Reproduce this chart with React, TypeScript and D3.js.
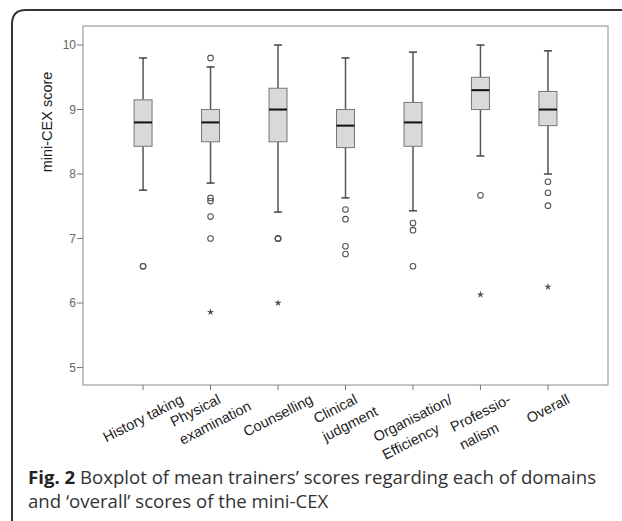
import { useEffect, useRef } from 'react'
import * as d3 from 'd3'

// domains (label lines as printed under the axis)
const labelLines = [
  ['History taking'],
  ['Physical', 'examination'],
  ['Counselling'],
  ['Clinical', 'judgment'],
  ['Organisation/', 'Efficiency'],
  ['Professio-', 'nalism'],
  ['Overall'],
]
const categories = labelLines.map((l) => l.join(' '))

// five-number summaries
const whiskerLow = [7.75, 7.86, 7.41, 7.63, 7.43, 8.28, 8.0]
const q1 = [8.43, 8.5, 8.5, 8.41, 8.43, 9.0, 8.75]
const median = [8.8, 8.8, 9.0, 8.75, 8.8, 9.3, 9.0]
const q3 = [9.15, 9.0, 9.33, 9.0, 9.11, 9.5, 9.28]
const whiskerHigh = [9.8, 9.66, 10.0, 9.8, 9.89, 10.0, 9.91]

// circles (outliers) and stars (extremes)
const outliers = [
  [6.57, 6.57],
  [9.8, 7.63, 7.58, 7.34, 7.0],
  [7.0, 7.0, 7.0],
  [7.45, 7.3, 6.88, 6.76],
  [7.24, 7.13, 6.57],
  [7.67],
  [7.88, 7.71, 7.51],
]
const extremes = [[], [5.86], [6.0], [], [], [6.13], [6.25]]

const yTicks = [5, 6, 7, 8, 9, 10]
const yTitle = 'mini-CEX score'
const captionBold = 'Fig. 2'
const captionLine1 = ' Boxplot of mean trainers’ scores regarding each of domains'
const captionLine2 = 'and ‘overall’ scores of the mini-CEX'

const W = 622
const H = 521
const plot = { left: 83, top: 26, right: 608, bottom: 385 }
const axisFont = 'Liberation Sans, Arial, sans-serif'

export default function App() {
  const ref = useRef<SVGSVGElement>(null)

  useEffect(() => {
    document.body.style.margin = '0'
    const el = ref.current
    if (!el) return
    const svg = d3.select(el)
    svg.selectAll('*').remove()

    const x = d3.scalePoint<string>().domain(categories).range([plot.left, plot.right]).padding(0.89)
    const y = d3.scaleLinear().domain([4.729, 10.295]).range([plot.bottom, plot.top])
    const boxW = 18
    const capW = 8

    // outer panel frame (rounded top-left corner, runs off the page)
    const r = 14
    svg.append('path')
      .attr('d', `M12,${H + 10} L12,${10 + r} Q12,10 ${12 + r},10 L${W + 10},10`)
      .attr('fill', 'none')
      .attr('stroke', '#333')
      .attr('stroke-width', 2)

    // plot area border
    svg.append('rect')
      .attr('x', plot.left).attr('y', plot.top)
      .attr('width', plot.right - plot.left).attr('height', plot.bottom - plot.top)
      .attr('fill', '#fff').attr('stroke', '#8c8c8c').attr('stroke-width', 1)

    // y axis ticks
    const yt = svg.append('g')
    yt.selectAll('line').data(yTicks).join('line')
      .attr('x1', plot.left - 6).attr('x2', plot.left)
      .attr('y1', (d) => y(d)).attr('y2', (d) => y(d))
      .attr('stroke', '#777')
    yt.selectAll('text').data(yTicks).join('text')
      .attr('x', plot.left - 7).attr('y', (d) => y(d))
      .attr('text-anchor', 'end').attr('dominant-baseline', 'central')
      .attr('font-family', axisFont).attr('font-size', 12).attr('fill', '#666')
      .text((d) => d)

    // y title
    svg.append('text')
      .attr('transform', 'translate(52,122) rotate(-90)')
      .attr('text-anchor', 'middle')
      .attr('font-family', axisFont).attr('font-size', 14.5).attr('fill', '#222')
      .text(yTitle)

    // x ticks
    svg.append('g').selectAll('line').data(categories).join('line')
      .attr('x1', (d) => x(d)!).attr('x2', (d) => x(d)!)
      .attr('y1', plot.bottom).attr('y2', plot.bottom + 5)
      .attr('stroke', '#777')

    // boxes
    const g = svg.append('g')
    categories.forEach((c, i) => {
      const cx = x(c)!
      const wc = '#555'
      g.append('line').attr('x1', cx).attr('x2', cx).attr('y1', y(whiskerLow[i])).attr('y2', y(q1[i]))
        .attr('stroke', wc).attr('stroke-width', 1.5)
      g.append('line').attr('x1', cx).attr('x2', cx).attr('y1', y(q3[i])).attr('y2', y(whiskerHigh[i]))
        .attr('stroke', wc).attr('stroke-width', 1.5)
      ;[whiskerLow[i], whiskerHigh[i]].forEach((v) => {
        g.append('line').attr('x1', cx - capW / 2).attr('x2', cx + capW / 2).attr('y1', y(v)).attr('y2', y(v))
          .attr('stroke', '#444').attr('stroke-width', 1.5)
      })
      g.append('rect')
        .attr('x', cx - boxW / 2).attr('y', y(q3[i]))
        .attr('width', boxW).attr('height', y(q1[i]) - y(q3[i]))
        .attr('fill', '#d9d9d9').attr('stroke', '#777').attr('stroke-width', 1)
      g.append('line').attr('x1', cx - boxW / 2).attr('x2', cx + boxW / 2)
        .attr('y1', y(median[i])).attr('y2', y(median[i]))
        .attr('stroke', '#111').attr('stroke-width', 2)

      g.selectAll(null).data(outliers[i]).join('circle')
        .attr('cx', cx).attr('cy', (d) => y(d)).attr('r', 2.8)
        .attr('fill', 'none').attr('stroke', '#555').attr('stroke-width', 1.1)

      g.selectAll(null).data(extremes[i]).join('path')
        .attr('d', d3.symbol().type(d3.symbolStar).size(16)()!)
        .attr('transform', (d) => `translate(${cx},${y(d)})`)
        .attr('fill', '#555')
    })

    // rotated category labels: union of each line's rotated box,
    // centred horizontally under the tick, top just below the axis
    const angle = -27
    const rad = (angle * Math.PI) / 180
    const cos = Math.cos(rad)
    const sin = Math.sin(rad)
    const labelTop = plot.bottom + 6
    categories.forEach((c, i) => {
      const outer = svg.append('g')
      const inner = outer.append('g').attr('transform', `rotate(${angle})`)
      let minX = Infinity, maxX = -Infinity, minY = Infinity
      labelLines[i].forEach((line, j) => {
        const t = inner.append('text')
          .attr('x', 0).attr('y', j * 20)
          .attr('font-family', axisFont).attr('font-size', 14.5).attr('fill', '#222')
          .text(line)
        const b = (t.node() as SVGTextElement).getBBox()
        const corners = [[b.x, b.y], [b.x + b.width, b.y], [b.x, b.y + b.height], [b.x + b.width, b.y + b.height]]
        corners.forEach(([px, py]) => {
          const rx = px * cos - py * sin
          const ry = px * sin + py * cos
          minX = Math.min(minX, rx)
          maxX = Math.max(maxX, rx)
          minY = Math.min(minY, ry)
        })
      })
      const tx = x(c)! - (minX + maxX) / 2
      const ty = labelTop - minY
      outer.attr('transform', `translate(${tx},${ty})`)
    })

    // caption
    const capFont = 18.6
    const cap = svg.append('text')
      .attr('x', 28).attr('y', 484)
      .attr('font-family', 'Open Sans, sans-serif').attr('font-size', capFont).attr('fill', '#333')
    cap.append('tspan').attr('font-weight', 'bold').attr('fill', '#222').text(captionBold)
    cap.append('tspan').text(captionLine1)
    svg.append('text')
      .attr('x', 28).attr('y', 508)
      .attr('font-family', 'Open Sans, sans-serif').attr('font-size', capFont).attr('fill', '#333')
      .text(captionLine2)
  }, [])

  return <svg ref={ref} width={W} height={H} style={{ display: 'block' }} />
}
